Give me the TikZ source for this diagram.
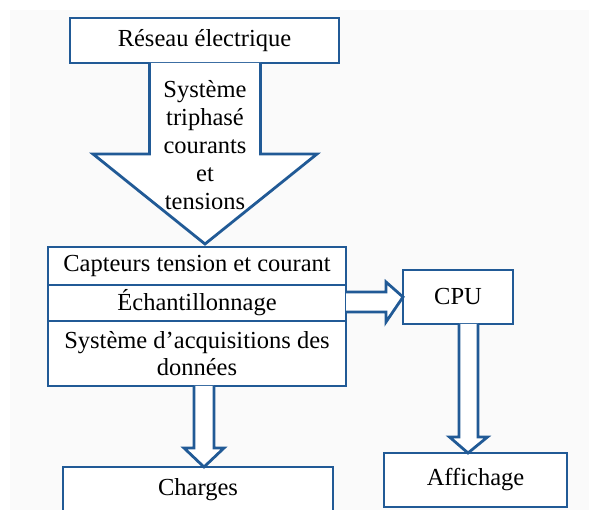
\documentclass[tikz,border=0pt]{standalone}
\usepackage{fontspec}
\setmainfont{Liberation Serif}
\usetikzlibrary{calc}
\definecolor{bl}{RGB}{33,90,150}
\definecolor{bg}{RGB}{250,250,250}
\begin{document}
\begin{tikzpicture}[x=1pt,y=-1pt,line width=2.8pt,
  box/.style={draw=bl,fill=white,rectangle,inner sep=0pt,outer sep=0pt,
    font=\fontsize{24.5}{27}\selectfont,align=center},
  bigarrow/.style={draw=bl,fill=white,line join=miter},
  txt/.style={font=\fontsize{24.5}{28}\selectfont,align=center,inner sep=0pt}]
\useasboundingbox (0,0) rectangle (589,510);
\fill[bg] (10,10) rectangle (589,510);
% boxes
\node[box,minimum width=269pt,minimum height=45pt] (res) at (204.5,40.5) {Réseau électrique};
\node[box,minimum width=298pt,minimum height=38pt] (cap) at (197,266) {Capteurs tension et courant};
\node[box,minimum width=298pt,minimum height=36pt] (ech) at (197,303) {Échantillonnage};
\node[box,minimum width=298pt,minimum height=65pt] (sys) at (197,353.5) {Système d’acquisitions des\\données};
\node[box,minimum width=110pt,minimum height=54pt] (cpu) at (458,297) {CPU};
\node[box,minimum width=270pt,minimum height=46pt] (chg) at (198,490) {Charges};
\node[box,minimum width=183pt,minimum height=54pt] (aff) at (475.5,480) {Affichage};
% big arrow from res to cap
\coordinate (t0) at ($(res.south)+(0.5,0)$);
\coordinate (t1) at ($(cap.north)+(8,-3)$);
\filldraw[bigarrow] ($(t0)+(-55.5,0)$) -- ($(t0)+(-55.5,91)$) -- ($(t0)+(-112,91)$)
  -- (t1) -- ($(t0)+(112,91)$) -- ($(t0)+(55.5,91)$) -- ($(t0)+(55.5,0)$);
\node[txt] (lbl) at (205,145) {Système\\triphasé\\courants\\et\\tensions};
% arrow ech -> cpu
\coordinate (r0) at ($(ech.east)+(0,-1)$);
\filldraw[bigarrow] ($(r0)+(0,-10)$) -- ($(r0)+(40,-10)$) -- ($(r0)+(40,-20)$)
  -- (cpu.west) -- ($(r0)+(40,20)$) -- ($(r0)+(40,10)$) -- ($(r0)+(0,10)$);
% arrow sys -> charges
\coordinate (c0) at ($(sys.south)+(7,0)$);
\filldraw[bigarrow] ($(c0)+(-10,0)$) -- ($(c0)+(-10,62)$) -- ($(c0)+(-20,62)$)
  -- ($(chg.north)+(6,0)$) -- ($(c0)+(20,62)$) -- ($(c0)+(10,62)$) -- ($(c0)+(10,0)$);
% arrow cpu -> affichage
\coordinate (a0) at ($(cpu.south)+(10.5,0)$);
\filldraw[bigarrow] ($(a0)+(-9.5,0)$) -- ($(a0)+(-9.5,113)$) -- ($(a0)+(-19,113)$)
  -- ($(aff.north)+(-7.5,0)$) -- ($(a0)+(19,113)$) -- ($(a0)+(9.5,113)$) -- ($(a0)+(9.5,0)$);
\end{tikzpicture}
\end{document}
